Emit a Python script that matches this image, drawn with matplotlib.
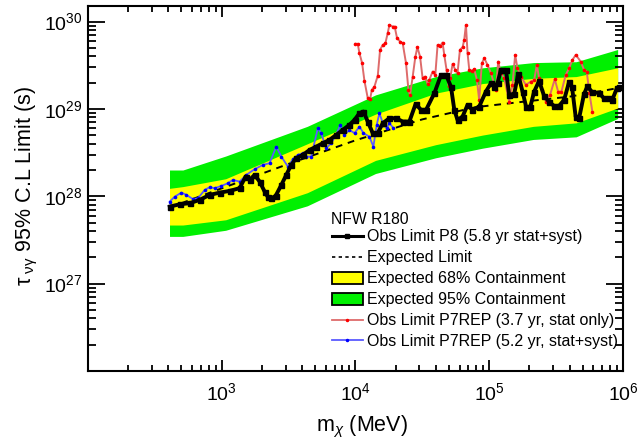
import numpy as np
import matplotlib
matplotlib.use("Agg")
import matplotlib.pyplot as plt
from matplotlib.lines import Line2D
from matplotlib.patches import Patch
from matplotlib import ticker

plt.rcParams['font.family'] = ['Liberation Sans', 'DejaVu Sans']
plt.rcParams['mathtext.fontset'] = 'custom'
plt.rcParams['mathtext.rm'] = 'Liberation Sans'
plt.rcParams['mathtext.it'] = 'Liberation Sans:italic'
plt.rcParams['mathtext.bf'] = 'Liberation Sans:bold'

# values, stored as log10(mass/MeV) and log10(tau/s)
p8_logm = [2.612, 2.687, 2.761, 2.836, 2.910, 2.985, 3.060, 3.134, 3.179, 3.209,
           3.246, 3.284, 3.321, 3.346, 3.371, 3.403, 3.446, 3.483, 3.520, 3.557,
           3.607, 3.657, 3.707, 3.756, 3.806, 3.856, 3.905, 3.955, 3.993, 4.030,
           4.060, 4.092, 4.129, 4.166, 4.204, 4.254, 4.304, 4.353, 4.403, 4.450,
           4.490, 4.528, 4.590, 4.640, 4.677, 4.714, 4.739, 4.763, 4.801, 4.838,
           4.875, 4.925, 4.975, 5.013, 5.037, 5.062, 5.087, 5.125, 5.149, 5.187,
           5.216, 5.249, 5.276, 5.306, 5.336, 5.373, 5.410, 5.448, 5.485, 5.522,
           5.560, 5.597, 5.619, 5.646, 5.672, 5.709, 5.734, 5.771, 5.821, 5.858,
           5.896, 5.920, 5.955, 5.970]
p8_logtau = [27.881, 27.908, 27.920, 27.958, 28.015, 28.041, 28.061, 28.092, 28.225, 28.187,
             28.244, 28.167, 28.053, 27.989, 27.977, 28.003, 28.129, 28.244, 28.359, 28.435,
             28.473, 28.530, 28.568, 28.607, 28.645, 28.702, 28.759, 28.817, 28.874, 28.951,
             28.969, 28.855, 28.722, 28.722, 28.836, 28.893, 28.893, 28.855, 28.855, 29.057,
             28.989, 28.989, 29.180, 29.389, 29.389, 29.255, 28.989, 28.874, 28.912, 29.046,
             28.989, 29.026, 29.198, 29.294, 29.255, 29.294, 29.447, 29.447, 29.160, 29.172,
             29.401, 29.198, 29.023, 29.017, 29.198, 29.321, 29.149, 29.080, 29.034, 29.034,
             29.103, 29.309, 29.252, 28.912, 28.893, 29.172, 29.258, 29.189, 29.183, 29.120,
             29.123, 29.103, 29.241, 29.249]

p7_stat_logm = [4.000, 4.017, 4.030, 4.050, 4.067, 4.092, 4.110, 4.122, 4.142, 4.167,
                4.184, 4.204, 4.224, 4.241, 4.254, 4.278, 4.293, 4.311, 4.334, 4.353,
                4.378, 4.396, 4.408, 4.428, 4.448, 4.463, 4.483, 4.502, 4.520, 4.540,
                4.552, 4.577, 4.597, 4.614, 4.634, 4.651, 4.664, 4.681, 4.696, 4.709,
                4.726, 4.746, 4.763, 4.781, 4.801, 4.813, 4.826, 4.838, 4.851, 4.871,
                4.888, 4.908, 4.925, 4.945, 4.963, 4.987, 5.013, 5.050, 5.067, 5.087,
                5.112, 5.149, 5.174, 5.194, 5.211, 5.237, 5.274, 5.311, 5.336, 5.356,
                5.373, 5.398, 5.423, 5.455, 5.490, 5.515, 5.540, 5.572, 5.597, 5.622,
                5.647, 5.684, 5.709, 5.729, 5.749, 5.771]
p7_stat_logtau = [29.745, 29.745, 29.638, 29.523, 29.324, 29.123, 29.111, 29.218, 29.255, 29.381,
                  29.676, 29.733, 29.753, 29.867, 29.962, 29.943, 29.943, 29.810, 29.771, 29.753,
                  29.523, 29.218, 29.160, 29.370, 29.599, 29.707, 29.599, 29.352, 29.370, 29.286,
                  29.332, 29.427, 29.389, 29.733, 29.722, 29.760, 29.619, 29.447, 29.263, 29.352,
                  29.515, 29.447, 29.409, 29.676, 29.707, 29.790, 29.962, 29.638, 29.447, 29.439,
                  29.455, 29.332, 29.103, 29.523, 29.581, 29.504, 29.409, 29.218, 29.542, 29.409,
                  29.352, 29.084, 29.275, 29.619, 29.466, 29.370, 29.275, 29.313, 29.332, 29.504,
                  29.352, 29.218, 29.084, 29.160, 29.341, 29.198, 29.198, 29.389, 29.466, 29.561,
                  29.619, 29.542, 29.447, 29.427, 29.180, 28.969]

p7_syst_logm = [2.612, 2.649, 2.699, 2.737, 2.786, 2.823, 2.873, 2.910, 2.948, 2.998,
                3.047, 3.084, 3.134, 3.184, 3.246, 3.308, 3.358, 3.408, 3.446, 3.495,
                3.532, 3.569, 3.607, 3.632, 3.669, 3.719, 3.744, 3.781, 3.819, 3.856,
                3.886, 3.918, 3.955, 3.993, 4.030, 4.060, 4.104, 4.134, 4.159, 4.179,
                4.209, 4.234, 4.254, 4.284]
p7_syst_logtau = [27.939, 27.995, 28.041, 28.015, 27.966, 27.977, 28.072, 28.103, 28.092, 28.118,
                  28.149, 28.187, 28.167, 28.244, 28.309, 28.359, 28.378, 28.568, 28.454, 28.339,
                  28.424, 28.473, 28.493, 28.454, 28.454, 28.779, 28.722, 28.550, 28.607, 28.702,
                  28.817, 28.702, 28.759, 28.722, 28.797, 28.722, 28.683, 28.568, 28.817, 28.951,
                  28.817, 28.779, 28.836, 28.779]

exp_logm = [2.61, 3.0, 3.5, 4.0, 4.5, 4.9, 5.3, 5.6, 5.97]
exp_logtau = [27.87, 28.09, 28.37, 28.64, 28.88, 29.02, 29.09, 29.14, 29.24]

band_logm = [2.61, 2.71, 3.03, 3.64, 4.15, 4.60, 4.95, 5.33, 5.65, 5.96]
g_hi = [28.30, 28.30, 28.46, 28.80, 29.16, 29.37, 29.47, 29.53, 29.54, 29.68]
y_hi = [28.09, 28.11, 28.20, 28.60, 28.94, 29.18, 29.29, 29.35, 29.37, 29.47]
y_lo = [27.67, 27.67, 27.73, 28.04, 28.41, 28.59, 28.70, 28.80, 28.84, 29.01]
g_lo = [27.54, 27.54, 27.61, 27.89, 28.26, 28.44, 28.55, 28.65, 28.68, 28.89]

labels = ["Obs Limit P8 (5.8 yr stat+syst)", "Expected Limit",
          "Expected 68% Containment", "Expected 95% Containment",
          "Obs Limit P7REP (3.7 yr, stat only)", "Obs Limit P7REP (5.2 yr, stat+syst)"]

RED_LINE = '#de6b6b'
BLUE_LINE = '#5a5aff'
GREEN = '#00f000'
YELLOW = '#ffff00'


def p10(a):
    return 10.0 ** np.asarray(a)


fig = plt.figure(figsize=(6.37, 4.41), dpi=100)
ax = fig.add_axes([0.138, 0.159, 0.840, 0.827])

bm = p10(band_logm)
ax.fill_between(bm, p10(g_lo), p10(g_hi), color=GREEN, lw=0, zorder=1)
ax.fill_between(bm, p10(y_lo), p10(y_hi), color=YELLOW, lw=0, zorder=2)
ax.plot(p10(exp_logm), p10(exp_logtau), color='black', ls=(0, (3.5, 3)), lw=1.4, zorder=3)
ax.plot(p10(p7_stat_logm), p10(p7_stat_logtau), color=RED_LINE, lw=1.4,
        marker='o', ms=1.6, mfc='red', mec='red', zorder=4)
ax.plot(p10(p7_syst_logm), p10(p7_syst_logtau), color=BLUE_LINE, lw=1.3,
        marker='o', ms=1.6, mfc='#0000ff', mec='#0000ff', zorder=4)
ax.plot(p10(p8_logm), p10(p8_logtau), color='black', lw=2.8,
        marker='s', ms=3.6, zorder=5)

ax.set_xscale('log')
ax.set_yscale('log')
ax.set_xlim(100, 1e6)
ax.set_ylim(1e26, 1.5e30)

fmt = ticker.FuncFormatter(lambda v, p: r'$\mathregular{10^{%d}}$' % round(np.log10(v)))
ax.xaxis.set_major_locator(ticker.FixedLocator([1e3, 1e4, 1e5, 1e6]))
ax.yaxis.set_major_locator(ticker.FixedLocator([1e27, 1e28, 1e29, 1e30]))
ax.xaxis.set_major_formatter(fmt)
ax.yaxis.set_major_formatter(fmt)
ax.xaxis.set_minor_locator(ticker.LogLocator(base=10, subs=np.arange(1, 10), numticks=20))
ax.yaxis.set_minor_locator(ticker.LogLocator(base=10, subs=np.arange(1, 10), numticks=20))
ax.xaxis.set_minor_formatter(ticker.NullFormatter())
ax.yaxis.set_minor_formatter(ticker.NullFormatter())

ax.tick_params(which='both', direction='in', top=True, right=True, labelsize=14, width=1.3)
ax.tick_params(axis='x', which='major', length=8, pad=8)
ax.tick_params(axis='x', which='minor', length=4)
ax.tick_params(axis='y', which='major', length=12, pad=4)
ax.tick_params(axis='y', which='minor', length=6)
for s in ax.spines.values():
    s.set_linewidth(1.5)

ax.set_ylabel(r'τ$_{\ \mathregular{\nu\gamma}}$ 95% C.L Limit (s)', fontsize=15.5)
ax.yaxis.set_label_coords(-0.089, 0.507)
ax.set_xlabel(r'm$_{\chi}$ (MeV)', fontsize=15.5)
ax.xaxis.set_label_coords(0.512, -0.118)

fig.text(331 / 637, 1 - 224 / 441, 'NFW R180', fontsize=11.3, ha='left', va='baseline')

handles = [Line2D([], [], color='black', lw=2.2, marker='s', ms=3),
           Line2D([], [], color='black', ls=(0, (2, 2)), lw=1.2),
           Patch(facecolor=YELLOW, edgecolor='black', lw=1.3),
           Patch(facecolor=GREEN, edgecolor='black', lw=1.3),
           Line2D([], [], color=RED_LINE, lw=1.3, marker='o', ms=1.5, mfc='red', mec='red'),
           Line2D([], [], color=BLUE_LINE, lw=1.3, marker='o', ms=1.5, mfc='blue', mec='blue')]
ax.legend(handles, labels, loc='upper left',
          bbox_to_anchor=(331.5 / 637, 1 - 229.5 / 441), bbox_transform=fig.transFigure,
          frameon=False, fontsize=11.5, numpoints=1,
          handlelength=1.95, handleheight=0.85, handletextpad=0.3, labelspacing=0.375,
          borderpad=0, borderaxespad=0)

fig.savefig('out.png', dpi=100)
